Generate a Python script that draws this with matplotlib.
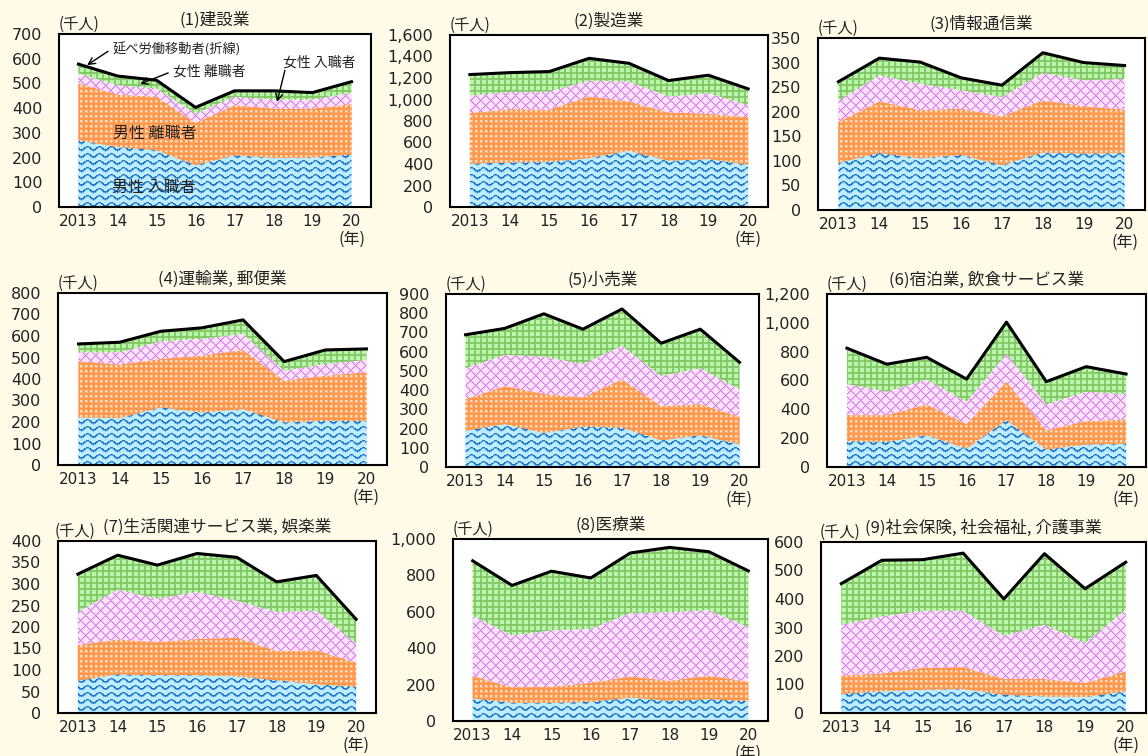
import numpy as np
import matplotlib
matplotlib.use("Agg")
import matplotlib.pyplot as plt
from matplotlib.ticker import FuncFormatter, MultipleLocator
from matplotlib.colors import to_rgb

plt.rcParams["font.family"] = ["Noto Sans CJK JP", "DejaVu Sans"]

# ---------------------------------------------------------------- data (千人)
years = [2013, 2014, 2015, 2016, 2017, 2018, 2019, 2020]
year_labels = ["2013", "14", "15", "16", "17", "18", "19", "20"]

titles = [
    "(1)建設業",
    "(2)製造業",
    "(3)情報通信業",
    "(4)運輸業, 郵便業",
    "(5)小売業",
    "(6)宿泊業, 飲食サービス業",
    "(7)生活関連サービス業, 娯楽業",
    "(8)医療業",
    "(9)社会保険, 社会福祉, 介護事業",
]

# 男性 入職者
male_hires = [
    [270, 243, 230, 169, 209, 199, 200, 212],
    [402, 415, 418, 455, 523, 430, 446, 393],
    [96, 116, 105, 112, 91, 117, 115, 116],
    [221, 218, 268, 244, 260, 198, 205, 205],
    [188, 223, 178, 209, 205, 139, 165, 118],
    [179, 174, 220, 128, 325, 121, 156, 162],
    [75, 90, 88, 88, 85, 76, 67, 61],
    [124, 100, 100, 105, 129, 111, 120, 109],
    [67, 76, 82, 84, 64, 58, 56, 76],
]
# 男性 離職者
male_separations = [
    [230, 212, 216, 171, 203, 199, 198, 204],
    [471, 495, 486, 573, 458, 449, 421, 443],
    [83, 105, 98, 94, 100, 106, 96, 88],
    [261, 249, 225, 265, 275, 194, 210, 226],
    [164, 198, 202, 153, 251, 178, 162, 143],
    [181, 186, 214, 169, 267, 134, 162, 168],
    [83, 81, 77, 84, 90, 68, 79, 56],
    [123, 85, 88, 105, 115, 110, 129, 107],
    [65, 62, 76, 77, 55, 61, 49, 70],
]
# 女性 離職者
female_separations = [
    [40, 38, 34, 38, 34, 37, 37, 46],
    [164, 161, 170, 148, 186, 149, 191, 114],
    [44, 53, 54, 38, 39, 56, 53, 63],
    [42, 57, 83, 78, 75, 47, 55, 58],
    [162, 162, 195, 174, 174, 157, 187, 143],
    [216, 162, 173, 156, 193, 181, 204, 176],
    [77, 116, 101, 110, 86, 91, 92, 45],
    [332, 285, 310, 296, 350, 377, 360, 301],
    [178, 201, 201, 198, 152, 191, 141, 217],
]
# 女性 入職者
female_hires = [
    [38, 37, 33, 25, 24, 35, 28, 45],
    [195, 179, 186, 207, 170, 148, 168, 149],
    [38, 35, 44, 25, 24, 41, 36, 27],
    [39, 47, 46, 51, 65, 42, 65, 51],
    [174, 138, 222, 181, 192, 170, 203, 141],
    [248, 191, 154, 157, 220, 156, 174, 139],
    [88, 80, 78, 89, 101, 70, 82, 56],
    [301, 275, 325, 280, 329, 356, 321, 308],
    [144, 197, 179, 202, 129, 249, 190, 166],
]

y_max = [700, 1600, 350, 800, 900, 1200, 400, 1000, 600]
y_step = [100, 200, 50, 100, 100, 200, 50, 200, 100]

# ---------------------------------------------------------------- layout
W, H = 1148, 756
DPI = 100
BG = "#FFFBE8"
TXT = "#222222"

# axes boxes in pixels: left, top, right, bottom
boxes = [
    (59, 34, 371, 207), (450, 35, 768, 207), (818, 38, 1145, 210),
    (58, 293, 387, 465), (446, 294, 759, 467), (827, 294, 1146, 467),
    (58, 541, 376, 713), (453, 539, 768, 721), (821, 542, 1146, 713),
]
# horizontal offset (points) of the "(千人)" unit label
unit_dx = [0, 0, 0, 0, 0, 0, -2.5, 0, -1]


def rgb(c):
    return np.array(to_rgb(c))


def make_texture(kind, w, h, x0, y0):
    """Pixel pattern for one stacked area, in figure pixel space."""
    yy, xx = np.mgrid[0:h, 0:w]
    xx = xx + x0
    yy = yy + y0
    img = np.empty((h, w, 3))
    if kind == "wave":
        img[:] = rgb("#BDEBFF")
        d = (yy + 1.8 * np.sin(2 * np.pi * xx / 12.0)) % 7.0
        img[(d >= 1.4) & (d < 2.2)] = rgb("#6DB6EE")
        img[d < 1.4] = rgb("#1E74C8")
    elif kind == "dots":
        img[:] = rgb("#FF974C")
        m = (xx % 5 < 2) & (yy % 5 < 2)
        edge = ((xx % 5 < 3) & (yy % 5 < 3)) & ~m
        img[edge] = rgb("#FFB47A")
        img[m] = rgb("#FFE0C6")
    elif kind == "diamond":
        img[:] = rgb("#FFE2FF")
        a = (xx + yy) % 10
        b = (xx - yy) % 10
        img[(a == 1) | (b == 1)] = rgb("#EDB3F3")
        img[(a == 0) | (b == 0)] = rgb("#D27AE4")
    else:  # grid
        img[:] = rgb("#B8F7AA")
        g = (xx % 6 < 2) | (yy % 6 < 2)
        img[g] = rgb("#88CA6C")
        core = (xx % 6 == 0) & (yy % 6 == 0)
        img[core] = rgb("#72B657")
    return img


fill_colors = ["#BDEBFF", "#FF974C", "#FFE2FF", "#B8F7AA"]
kinds = ["wave", "dots", "diamond", "grid"]

fig = plt.figure(figsize=(W / DPI, H / DPI), dpi=DPI, facecolor=BG)

x = np.arange(len(years))
axes = []
for i, (l, t, r, b) in enumerate(boxes):
    ax = fig.add_axes([l / W, 1 - b / H, (r - l) / W, (b - t) / H])
    ax.set_facecolor("white")
    axes.append(ax)
    x_lim = (-0.5, len(years) - 0.5)
    y_lim = (0, y_max[i])

    layers = [male_hires[i], male_separations[i],
              female_separations[i], female_hires[i]]
    polys = ax.stackplot(x, *layers, colors=fill_colors, linewidth=0,
                         zorder=1)

    pw, ph = r - l, b - t
    # shift the texture a quarter pixel so nearest sampling never lands
    # exactly on a pixel boundary
    qx = 0.25 * (x_lim[1] - x_lim[0]) / pw
    qy = 0.25 * (y_lim[1] - y_lim[0]) / ph
    for poly, kind in zip(polys, kinds):
        tex = make_texture(kind, pw, ph, l, t)
        im = ax.imshow(tex, extent=(x_lim[0] + qx, x_lim[1] + qx,
                                    y_lim[0] + qy, y_lim[1] + qy),
                       origin="upper", aspect="auto",
                       interpolation="nearest", resample=False, zorder=1.5)
        im.set_clip_path(poly.get_paths()[0], ax.transData)

    total = np.sum(np.array(layers), axis=0)
    ax.plot(x, total, color="black", lw=2.2, zorder=3,
            solid_joinstyle="round")

    ax.set_xlim(*x_lim)
    ax.set_ylim(*y_lim)
    ax.set_xticks(x, year_labels)
    ax.yaxis.set_major_locator(MultipleLocator(y_step[i]))
    ax.yaxis.set_major_formatter(FuncFormatter(lambda v, p: f"{int(v):,}"))
    ax.tick_params(axis="both", length=0, labelfontfamily="DejaVu Sans",
                   colors=TXT)
    ax.tick_params(axis="y", pad=12, labelsize=11.5)
    ax.tick_params(axis="x", pad=5, labelsize=11)
    for s in ax.spines.values():
        s.set_linewidth(1.5)
        s.set_color("black")
        s.set_zorder(4)

    ax.annotate(titles[i], xy=(0.5, 1), xycoords="axes fraction",
                xytext=(0, 10), textcoords="offset points",
                ha="center", va="center", fontsize=12, color=TXT)
    ax.annotate("(千人)", xy=(0, 1), xycoords="axes fraction",
                xytext=(unit_dx[i], 7), textcoords="offset points",
                ha="left", va="center", fontsize=11, color=TXT)
    ax.annotate("(年)", xy=(x[-1], 0), xycoords=("data", "axes fraction"),
                xytext=(0, -23), textcoords="offset points",
                ha="center", va="center", fontsize=11.5, color=TXT)

# ---------------------------------------------------------------- key labels
ax = axes[0]
arrow = dict(arrowstyle="->", lw=1.0, color="black", shrinkA=0, shrinkB=0,
             mutation_scale=12)
ax.text(0.173, 0.913, "延べ労働移動者(折線)", transform=ax.transAxes,
        ha="left", va="center", fontsize=9.5, color=TXT, zorder=5)
ax.annotate("", xy=(0.09, 0.82), xytext=(0.157, 0.9),
            xycoords="axes fraction", textcoords="axes fraction",
            arrowprops=arrow, zorder=5)
ax.text(0.365, 0.786, "女性 離職者", transform=ax.transAxes,
        ha="left", va="center", fontsize=10, color=TXT, zorder=5)
ax.annotate("", xy=(0.26, 0.711), xytext=(0.35, 0.775),
            xycoords="axes fraction", textcoords="axes fraction",
            arrowprops=arrow, zorder=5)
ax.text(0.718, 0.838, "女性 入職者", transform=ax.transAxes,
        ha="left", va="center", fontsize=10, color=TXT, zorder=5)
ax.annotate("", xy=(0.699, 0.607), xytext=(0.724, 0.79),
            xycoords="axes fraction", textcoords="axes fraction",
            arrowprops=arrow, zorder=5)
ax.text(0.173, 0.428, "男性 離職者", transform=ax.transAxes,
        ha="left", va="center", fontsize=11.5, color=TXT, zorder=5)
ax.text(0.17, 0.116, "男性 入職者", transform=ax.transAxes,
        ha="left", va="center", fontsize=11.5, color=TXT, zorder=5)

fig.savefig("out.png", dpi=DPI, facecolor=BG)
